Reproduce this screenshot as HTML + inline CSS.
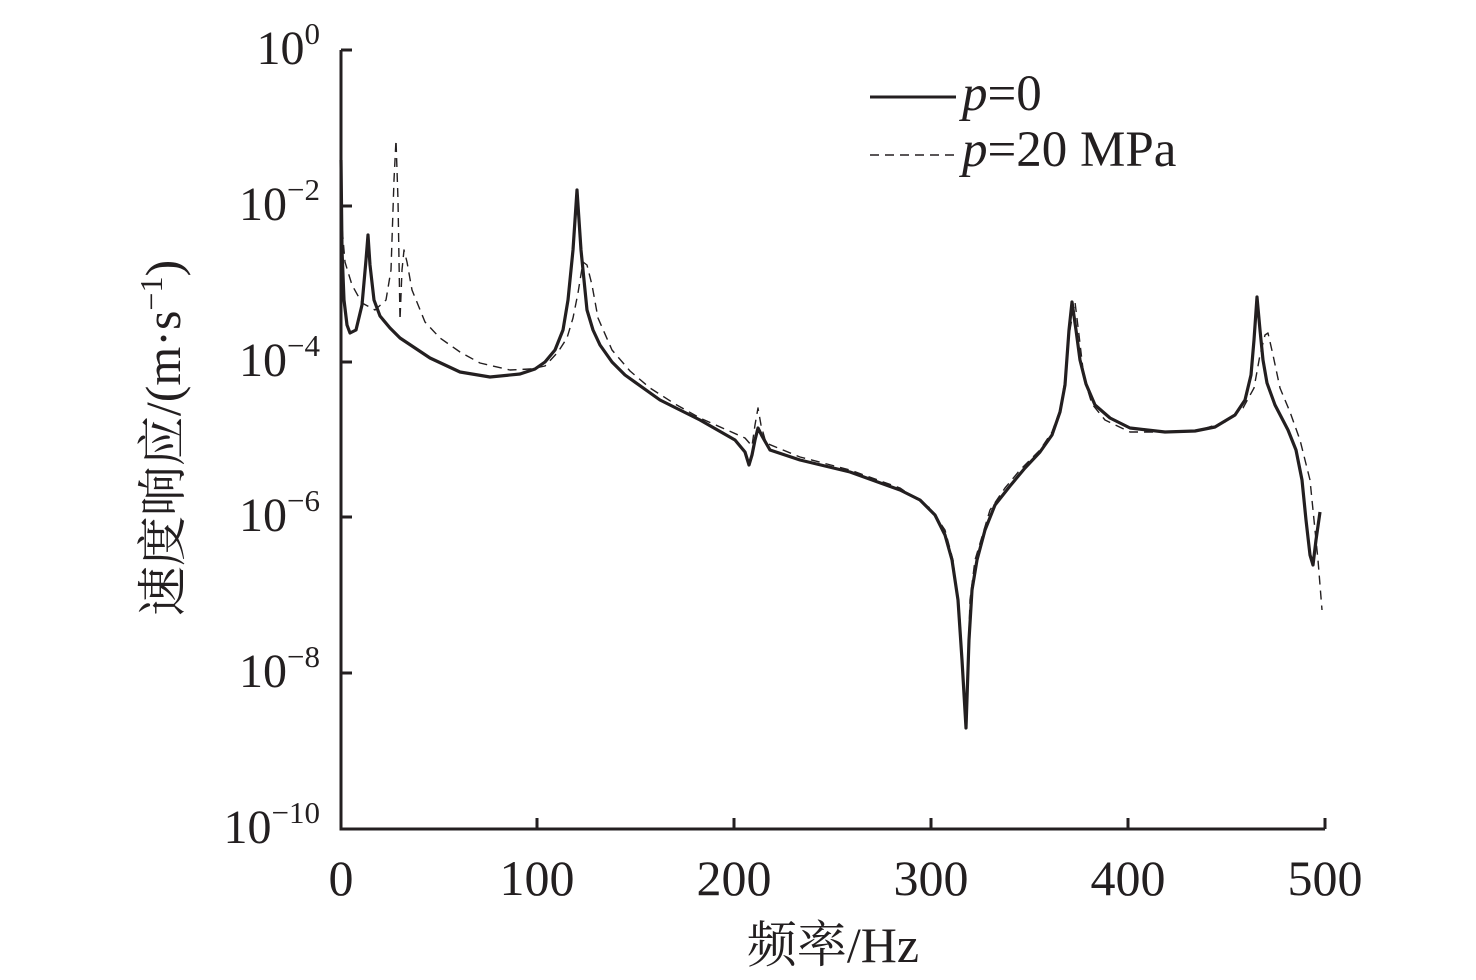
<!DOCTYPE html>
<html><head><meta charset="utf-8"><style>
body{margin:0;background:#fff;}
svg{display:block;}
text{font-family:"Liberation Serif","Noto Serif CJK SC",serif;fill:#231f20;}
</style></head><body>
<svg width="1476" height="980" viewBox="0 0 1476 980" xmlns="http://www.w3.org/2000/svg">
<g stroke="#231f20" stroke-width="3" fill="none">
<polyline points="341,50 341,829 1325,829"/>
<line x1="341" y1="50" x2="352" y2="50"/>
<line x1="341" y1="206" x2="352" y2="206"/>
<line x1="341" y1="362" x2="352" y2="362"/>
<line x1="341" y1="517" x2="352" y2="517"/>
<line x1="341" y1="673" x2="352" y2="673"/>
<line x1="537" y1="829" x2="537" y2="818"/>
<line x1="734" y1="829" x2="734" y2="818"/>
<line x1="931" y1="829" x2="931" y2="818"/>
<line x1="1128" y1="829" x2="1128" y2="818"/>
<line x1="1325" y1="829" x2="1325" y2="818"/>
</g>
<polyline fill="none" stroke="#231f20" stroke-width="1.4" stroke-dasharray="9,6" stroke-linejoin="round" points="341,215 345,262 352,285 362,303 375,310 386,300 391,270 394,180 396,140 398,200 400,320 402,270 404,250 407,262 412,290 425,322 440,338 460,352 480,363 510,370 530,369 545,366 558,352 567,338 573,318 578,293 583,262 587,265 592,285 598,318 612,350 630,371 650,388 675,404 700,418 745,438 752,446 755,425 758,408 761,425 766,443 800,457 850,470 900,488 930,508 945,530 953,560 960,620 966,728 970,600 975,560 990,510 1005,488 1020,470 1040,450 1052,432 1060,410 1065,380 1069,335 1075,302 1079,335 1084,378 1092,404 1105,420 1130,432 1170,432 1200,430 1225,422 1243,408 1254,388 1260,355 1265,335 1268,333 1273,355 1280,388 1290,412 1300,440 1310,480 1318,560 1322,610"/>
<polyline fill="none" stroke="#231f20" stroke-width="3.2" stroke-linejoin="round" points="341,160 342,250 344,300 347,325 350,333 356,330 362,305 366,260 368,235 370,265 374,300 380,316 390,328 400,338 415,348 430,358 460,372 490,377 520,374 535,369 545,362 555,350 563,330 568,300 573,250 577,190 581,250 587,310 593,330 600,345 612,362 625,375 660,400 700,420 735,440 745,452 749,465 752,455 755,440 758,428 762,436 770,450 800,460 850,472 900,490 920,500 935,515 945,535 952,560 958,600 962,660 966,728 969,640 972,590 977,560 985,530 995,505 1010,486 1025,468 1040,452 1052,435 1060,412 1065,385 1069,330 1072,302 1076,330 1080,360 1086,384 1095,405 1110,418 1130,428 1165,432 1195,431 1215,427 1235,415 1245,400 1251,375 1254,340 1257,297 1260,330 1263,360 1267,383 1275,405 1288,430 1296,450 1302,480 1306,520 1310,555 1313,565 1316,540 1320,512"/>
<g font-size="48">
<g text-anchor="end">
<text x="320" y="64">10<tspan font-size="31" dy="-20">0</tspan></text>
<text x="320" y="220">10<tspan font-size="31" dy="-20">−2</tspan></text>
<text x="320" y="376">10<tspan font-size="31" dy="-20">−4</tspan></text>
<text x="320" y="531">10<tspan font-size="31" dy="-20">−6</tspan></text>
<text x="320" y="687">10<tspan font-size="31" dy="-20">−8</tspan></text>
<text x="320" y="843">10<tspan font-size="31" dy="-20">−10</tspan></text>
</g>
<g text-anchor="middle" font-size="50">
<text x="341" y="895">0</text>
<text x="537" y="895">100</text>
<text x="734" y="895">200</text>
<text x="931" y="895">300</text>
<text x="1128" y="895">400</text>
<text x="1325" y="895">500</text>
<text x="833" y="962">频率/Hz</text>
</g>
<text transform="translate(180,438) rotate(-90)" text-anchor="middle" font-size="50">速度响应/(m·s<tspan font-size="32" dy="-18">−1</tspan><tspan dy="18">)</tspan></text>
<g font-size="51">
<text x="962" y="110"><tspan font-style="italic">p</tspan>=0</text>
<text x="962" y="166"><tspan font-style="italic">p</tspan>=20 MPa</text>
</g>
</g>
<line x1="870" y1="97" x2="956" y2="97" stroke="#231f20" stroke-width="3"/>
<line x1="870" y1="155" x2="956" y2="155" stroke="#231f20" stroke-width="1.4" stroke-dasharray="9,6"/>
</svg>
</body></html>
